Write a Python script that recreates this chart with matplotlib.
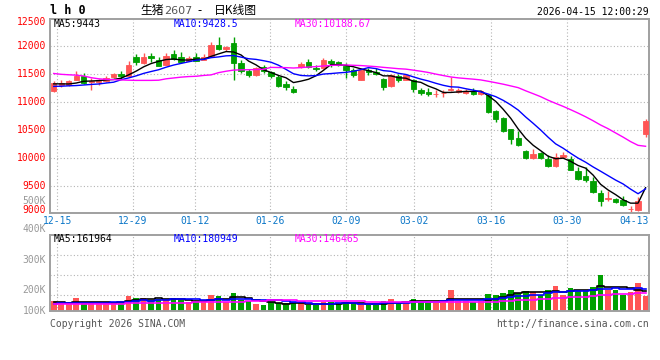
import matplotlib
matplotlib.use("Agg")
import matplotlib.pyplot as plt
import numpy as np

# ---- data (one entry per trading day, 80 days) ----
date_labels = ["12-15", "12-29", "01-12", "01-26", "02-09", "03-02", "03-16", "03-30", "04-13"]
date_idx = [1, 11, 19, 29, 39, 48, 58, 68, 77]

opens = [11200, 11300, 11305, 11394, 11464, 11346, 11346, 11364, 11435, 11494,
         11452, 11806, 11688, 11824, 11747, 11659, 11853, 11806, 11729, 11806,
         11747, 11806, 12012, 11935, 12041, 11700, 11558, 11470, 11629, 11523,
         11435, 11317, 11235, 11629, 11706, 11611, 11600, 11729, 11706, 11640,
         11559, 11394, 11559, 11524, 11412, 11276, 11453, 11394, 11383, 11218,
         11170, 11141, 11153, 11212, 11170, 11159, 11188, 11141, 11129, 10835,
         10717, 10511, 10364, 10128, 9993, 10081, 9981, 9863, 10010, 9981,
         9763, 9675, 9598, 9380, 9268, 9262, 9245, 9083, 9068, 10423]
highs = [11370, 11380, 11382, 11558, 11511, 11423, 11405, 11452, 11511, 11553,
         11735, 11847, 11865, 11865, 11806, 11865, 11924, 11894, 11824, 11865,
         11853, 12071, 12159, 12000, 12147, 11747, 11588, 11617, 11659, 11558,
         11470, 11364, 11276, 11706, 11765, 11659, 11776, 11765, 11729, 11690,
         11600, 11600, 11600, 11600, 11424, 11500, 11494, 11500, 11412, 11247,
         11247, 11206, 11218, 11435, 11247, 11230, 11247, 11218, 11147, 10847,
         10729, 10523, 10482, 10140, 10157, 10110, 10051, 10087, 10099, 10040,
         9834, 9834, 9657, 9421, 9410, 9292, 9315, 9139, 9303, 10693]
lows = [11170, 11270, 11287, 11382, 11323, 11217, 11305, 11352, 11423, 11405,
        11440, 11659, 11680, 11717, 11640, 11650, 11740, 11700, 11720, 11720,
        11740, 11790, 11924, 11912, 11394, 11520, 11440, 11460, 11520, 11423,
        11260, 11217, 11150, 11600, 11610, 11558, 11590, 11629, 11640, 11425,
        11450, 11380, 11483, 11471, 11218, 11260, 11353, 11380, 11176, 11129,
        11100, 11082, 11082, 11188, 11150, 11140, 11130, 11130, 10805, 10640,
        10470, 10246, 10220, 9980, 9980, 9990, 9840, 9834, 10000, 9780,
        9615, 9569, 9380, 9139, 9233, 9200, 9140, 9027, 9060, 10376]
closes = [11340, 11340, 11364, 11452, 11335, 11364, 11376, 11423, 11494, 11452,
          11659, 11706, 11806, 11788, 11647, 11818, 11759, 11718, 11776, 11735,
          11806, 12012, 11941, 11982, 11700, 11541, 11470, 11600, 11541, 11464,
          11276, 11264, 11170, 11670, 11629, 11588, 11747, 11688, 11659, 11560,
          11471, 11559, 11524, 11500, 11259, 11471, 11394, 11483, 11229, 11159,
          11141, 11147, 11159, 11230, 11206, 11188, 11141, 11188, 10823, 10699,
          10481, 10346, 10234, 9993, 10075, 9999, 9851, 10010, 10046, 9792,
          9627, 9616, 9392, 9227, 9286, 9215, 9156, 9090, 9227, 10658]
volumes = [82, 63, 63, 109, 63, 63, 63, 71, 76, 76,
           126, 109, 109, 90, 98, 87, 109, 90, 71, 71,
           82, 131, 126, 76, 150, 90, 82, 57, 49, 71,
           63, 63, 63, 63, 49, 49, 71, 71, 55, 71,
           63, 55, 49, 49, 82, 98, 63, 71, 98, 82,
           82, 63, 90, 172, 82, 82, 76, 82, 139, 131,
           147, 172, 150, 164, 158, 131, 172, 205, 131, 191,
           164, 164, 199, 295, 172, 172, 131, 158, 232, 123]  # thousands

# averages whose window starts before the first visible day
ma5_head = [11320, 11320, 11318, 11335]
ma10_head = [11275, 11278, 11285, 11290, 11300, 11310, 11318, 11335, 11350]
ma30_head = [11505, 11490, 11482, 11475, 11460, 11430, 11410, 11400, 11395, 11390,
             11385, 11382, 11382, 11382, 11385, 11410, 11425, 11440, 11450, 11455,
             11470, 11480, 11520, 11545, 11565, 11570, 11572, 11575, 11580]
vma5_head = [75, 70, 68, 72]
vma10_head = [60, 62, 63, 64, 65, 66, 67, 68, 70]
vma30_head = [58, 58, 58, 58, 59, 59, 60, 60, 61, 61,
              62, 64, 65, 66, 67, 68, 68, 69, 69, 70,
              72, 73, 74, 75, 76, 77, 78, 78, 79]

price_ticks = [9000, 9500, 10000, 10500, 11000, 11500, 12000, 12500]
vol_labels = ["500K", "400K", "300K", "200K", "100K"]

# where sina puts its date grid lines (slightly off the candle centres)
grid_shift = [-0.53, -0.46, -0.14, -0.13, 0.02, 0.1, 0.34, 0.48, 0.5]


def moving_average(values, n, head):
    vals = np.asarray(values, float)
    out = list(head)
    for i in range(n - 1, len(vals)):
        out.append(vals[i - n + 1:i + 1].mean())
    return np.array(out)


RED = "#FF5555"
GREEN = "#00A000"
GRID = "#B4B4B4"
MONO = "DejaVu Sans Mono"
W, H = 660, 360


def fx(px):
    return px / W


def fy(py):
    return 1 - py / H


o = np.array(opens, float)
c = np.array(closes, float)
hi = np.array(highs, float)
lo = np.array(lows, float)
v = np.array(volumes, float) * 1000
n = len(c)
x = np.arange(n)
cols = np.where(c >= o, RED, GREEN)
gx = np.array(date_idx) + np.array(grid_shift)

fig = plt.figure(figsize=(6.6, 3.6), dpi=100)
fig.patch.set_facecolor("white")

left, right = 50, 649.3
ax = fig.add_axes([fx(left), fy(213.3), (right - left) / W, (213.3 - 18.7) / H])
axv = fig.add_axes([fx(left), fy(311), (right - left) / W, (311 - 234.5) / H])

for a in (ax, axv):
    a.set_xlim(-0.5, n - 0.5)
    a.set_axisbelow(True)
    a.tick_params(length=0, labelbottom=False, labelleft=False)
    for s in a.spines.values():
        s.set_color("#A0A0A0")
        s.set_linewidth(1.4)
    for xi in gx[:-1]:
        a.axvline(xi, color=GRID, lw=0.8, ls=(0, (1, 2)), zorder=0)

# price panel
ax.set_ylim(9014, 12481)
for p in price_ticks[1:-1]:
    ax.axhline(p, color=GRID, lw=0.8, ls=(0, (1, 2)), zorder=0)
ax.vlines(x, lo, hi, colors=cols, lw=1, zorder=2)
ax.bar(x, np.abs(c - o), bottom=np.minimum(o, c), width=0.72, color=cols,
       edgecolor=cols, lw=0.6, zorder=3)
ax.plot(x, moving_average(c, 5, ma5_head), color="black", lw=1, zorder=4)
ax.plot(x, moving_average(c, 10, ma10_head), color="#0000FF", lw=1, zorder=4)
ax.plot(x, moving_average(c, 30, ma30_head), color="#FF00FF", lw=1, zorder=4)

ytr = ax.get_yaxis_transform()
for p in price_ticks:
    yy = min(max(p, 9075), 12430)
    ax.text(-0.007, yy, str(p), transform=ytr, ha="right", va="center",
            color="#FF0000", fontsize=7, family=MONO, clip_on=False)

xtr = ax.get_xaxis_transform()
for lab, xi in zip(date_labels, gx):
    ax.text(xi, -0.04, lab, transform=xtr, ha="center", va="center",
            color="#0A76C8", fontsize=7, family=MONO, clip_on=False)

# volume panel
axv.set_ylim(0, 626000)
for frac in (0.209, 0.471, 0.732):
    axv.axhline(frac * 626000, color=GRID, lw=0.8, ls=(0, (1, 2)), zorder=0)
axv.bar(x, v, width=0.75, color=cols, lw=0, zorder=2)
axv.plot(x, moving_average(v, 5, np.array(vma5_head) * 1000), color="black",
         lw=1.2, drawstyle="steps-mid", zorder=3)
axv.plot(x, moving_average(v, 10, np.array(vma10_head) * 1000), color="#0000FF",
         lw=1.2, drawstyle="steps-mid", zorder=3)
axv.plot(x, moving_average(v, 30, np.array(vma30_head) * 1000), color="#FF00FF",
         lw=1.2, drawstyle="steps-mid", zorder=3)

for lab, py in zip(vol_labels, [200.7, 229.5, 259.7, 290.3, 311.3]):
    fig.text(fx(46), fy(py), lab, ha="right", va="center", color="#999999",
             fontsize=7, family=MONO)

# legends of the averages
ma_txt = [("MA5:9443", 54, "black"), ("MA10:9428.5", 174, "#0000FF"),
          ("MA30:10188.67", 295, "#FF00FF")]
vma_txt = [("MA5:161964", 54, "black"), ("MA10:180949", 174, "#0000FF"),
           ("MA30:146465", 295, "#FF00FF")]
for t, px, col in ma_txt:
    fig.text(fx(px), fy(24), t, ha="left", va="center", color=col, fontsize=7, family=MONO)
for t, px, col in vma_txt:
    fig.text(fx(px), fy(239), t, ha="left", va="center", color=col, fontsize=7, family=MONO)

# header
fig.text(fx(50), fy(11), "l h 0", ha="left", va="center", fontsize=8.5,
         fontweight="bold", family=MONO)
cjk = ["Noto Sans CJK SC", "DejaVu Sans"]
fig.text(fx(140), fy(10.5), "生猪", ha="left", va="center", fontsize=8.5, family=cjk)
fig.text(fx(164), fy(10.5), "2607", ha="left", va="center", fontsize=8,
         color="#555555", family="DejaVu Sans")
fig.text(fx(197), fy(10.5), "-", ha="left", va="center", fontsize=8.5, family=cjk)
fig.text(fx(214), fy(10.5), "日K线图", ha="left", va="center", fontsize=8.5, family=cjk)
fig.text(fx(649), fy(12), "2026-04-15 12:00:29", ha="right", va="center",
         fontsize=7, family=MONO)

# footer
fig.text(fx(50), fy(324), "Copyright 2026 SINA.COM", ha="left", va="center",
         fontsize=7, color="#555555", family=MONO)
fig.text(fx(649), fy(324), "http://finance.sina.com.cn", ha="right", va="center",
         fontsize=7, color="#555555", family=MONO)

fig.savefig("out.png", dpi=100, facecolor="white")
